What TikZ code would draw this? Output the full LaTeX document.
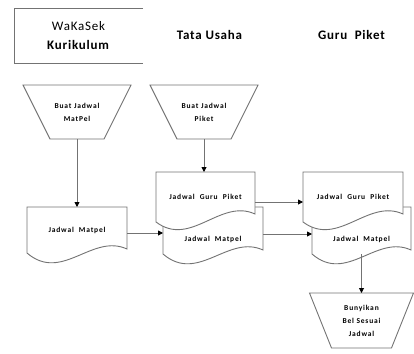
\documentclass[tikz,border=0pt]{standalone}
\usepackage{fontspec}
\setmainfont{Carlito}
\newfontfamily\lsfont[LetterSpace=11]{Carlito}
\newfontfamily\hdfont[LetterSpace=6]{Carlito}
\usetikzlibrary{calc,arrows.meta}
\pgfdeclarelayer{bg}
\pgfsetlayers{bg,main}
\tikzset{
  ln/.style={draw=black!55, line width=0.9pt},
  shapefill/.style={ln, fill=white},
  arr/.style={draw=black!55, line width=0.9pt, -{Triangle[length=5pt,width=5pt,color=black]}},
  lbl/.style={inner sep=0pt, outer sep=0pt, align=center, font=\lsfont\fontsize{7.5}{13}\selectfont\bfseries},
  hd/.style={inner sep=0pt, outer sep=0pt, align=center, font=\hdfont\fontsize{13}{19}\selectfont},
}
\newcommand\docpath[2]{($(#1.north west)+(0,-#2)$) -- ($(#1.north east)+(0,-#2)$) -- ($(#1.south east)+(0,-4)$) .. controls ($(#1.south west)!0.65!(#1.south east)+(0,-20)$) and ($(#1.south west)!0.35!(#1.south east)+(0,30)$) .. (#1.south west) -- cycle}
\newcommand\trappath[2]{(#1.north west) -- (#1.north east) -- ($(#1.south east)+(-#2,0)$) -- ($(#1.south west)+(#2,0)$) -- cycle}
\begin{document}
\begin{tikzpicture}[x=1pt,y=-1pt]
\useasboundingbox (0,0) rectangle (414,353);
% header
\node[hd, minimum width=129pt, minimum height=55pt] (hbox) at (78.5,35.5) {WaKaSek\\\textbf{Kurikulum}};
\node[hd, font=\hdfont\fontsize{13}{19}\selectfont\bfseries] (htu) at (209.5,35) {Tata Usaha};
\node[hd, font=\hdfont\fontsize{13}{19}\selectfont\bfseries] (hgp) at (351.5,35) {Guru\ \ Piket};
% manual operations
\node[lbl, minimum width=108pt, minimum height=54pt] (t1) at (77,112) {Buat Jadwal\\MatPel};
\node[lbl, minimum width=108pt, minimum height=54pt] (t2) at (204,112) {Buat Jadwal\\Piket};
\node[lbl, minimum width=104pt, minimum height=55pt] (t3) at (361.5,320.5) {Bunyikan\\Bel Sesuai\\Jadwal};
% documents
\node[lbl, minimum width=100pt, minimum height=46pt] (d1) at (77,230) {Jadwal\ \ Matpel};
\node[lbl, minimum width=99pt, minimum height=46pt] (c1) at (205.5,197) {Jadwal\ \ Guru\ \ Piket};
\node[lbl, minimum width=100pt, minimum height=30pt] (c2) at (213,239) {Jadwal\ \ Matpel};
\node[lbl, minimum width=100pt, minimum height=46pt] (r1) at (353,197) {Jadwal\ \ Guru\ \ Piket};
\node[lbl, minimum width=99pt, minimum height=30pt] (r2) at (361.5,239) {Jadwal\ \ Matpel};
\begin{pgfonlayer}{bg}
\draw[ln] (hbox.north east) -- (hbox.north west) -- (hbox.south west) -- (hbox.south east);
\draw[shapefill] \trappath{t1}{27};
\draw[shapefill] \trappath{t2}{27};
\draw[shapefill] \trappath{t3}{22};
\draw[shapefill] \docpath{d1}{0};
\draw[shapefill] \docpath{c2}{17};
\draw[shapefill] ($(c1.north west)+(0,-2)$) -- ($(c1.north east)+(0,-2)$) -- ($(c1.south east)+(0,-6)$) .. controls ($(c1.south west)!0.65!(c1.south east)+(0,-22)$) and ($(c1.south west)!0.35!(c1.south east)+(0,28)$) .. ($(c1.south west)+(0,2)$) -- cycle;
\draw[shapefill] \docpath{r2}{17};
\draw[shapefill] ($(r1.north west)+(0,-2)$) -- ($(r1.north east)+(0,-2)$) -- ($(r1.south east)+(0,-6)$) .. controls ($(r1.south west)!0.65!(r1.south east)+(0,-22)$) and ($(r1.south west)!0.35!(r1.south east)+(0,28)$) .. ($(r1.south west)+(0,2)$) -- cycle;
\end{pgfonlayer}
% connectors
\draw[arr] (t1.south) -- (t1.south |- d1.north);
\draw[arr] (t2.south) -- ($(t2.south |- c1.north)+(0,-2)$);
\draw[arr] ($(d1.east)+(0,3)$) -- ($(d1.east -| c2.west)+(0,3)$);
\draw[arr] ($(c1.east)+(0,5)$) -- ($(c1.east -| r1.west)+(0,5)$);
\draw[arr] ($(c2.east)+(0,-5)$) -- ($(c2.east -| r2.west)+(0,-5)$);
\draw[arr] (r2.south) -- (r2.south |- t3.north);
\end{tikzpicture}
\end{document}
